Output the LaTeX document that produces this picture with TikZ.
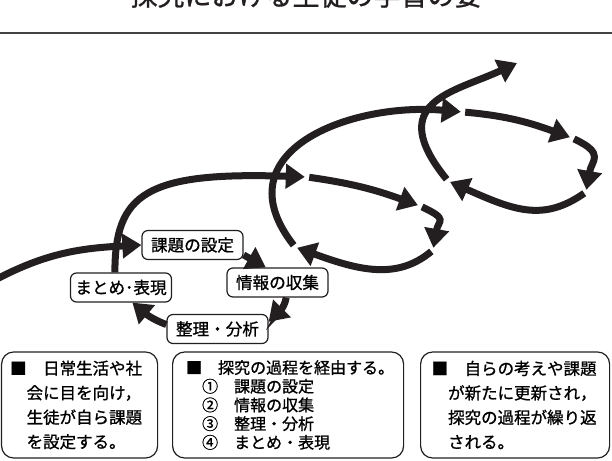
\documentclass[tikz,border=0pt]{standalone}
\usepackage{fontspec}
\setmainfont{Noto Sans CJK JP}[FakeBold=1]
\usetikzlibrary{arrows.meta}
\definecolor{ink}{HTML}{231F20}

\begin{document}
\begin{tikzpicture}[x=1pt, y=1pt, >={Triangle[length=19pt, width=24pt]},
    flow/.style={->, draw=ink, line width=7pt},
    labelbox/.style={draw=ink, fill=white, line width=1.2pt, rounded corners=6pt, minimum width=101pt, minimum height=29pt, inner sep=0pt, font=\fontsize{16.6}{18}\selectfont},
    notebox/.style={draw=ink, line width=1.2pt, rounded corners=12pt, minimum height=106pt, anchor=west, align=left},
    waypoint/.style={circle, inner sep=0pt, minimum size=4pt}]
    \useasboundingbox (0,0) rectangle (612,460);
    \clip (0,0) rectangle (612,460);

    % Title
    \node[anchor=base, font=\fontsize{27}{30}\selectfont, text=ink] (title) at (306,454.5) {探究における生徒の学習の姿};
    \draw[line width=1.5pt, draw=ink!85] (0,427) -- (612,427);

    % Define stages of the first cycle
    \node[labelbox] (set) at (192.5,215) {課題の設定};
    \node[labelbox] (collect) at (277.5,177.5) {情報の収集};
    \node[labelbox] (analyze) at (217.5,131) {整理・分析};
    \node[labelbox] (express) at (121,172.5) {まとめ･表現};

    % Define turning points of the next cycles
    \coordinate (entry) at (-5,180);
    \node[waypoint] (a2) at (307,283) {};
    \node[waypoint] (b2) at (420,254) {};
    \node[waypoint] (c2) at (433,210) {};
    \node[waypoint] (d2) at (295,213) {};
    \node[waypoint] (a3) at (463,348) {};
    \node[waypoint] (b3) at (572,322) {};
    \node[waypoint] (c3) at (586,268) {};
    \node[waypoint] (d3) at (448,279) {};
    \coordinate (exit) at (517,397);

    % Define notes
    \node[notebox, text width=139pt, inner xsep=8.5pt, font=\fontsize{16.5}{24.5}\selectfont] (notice) at (1,55) {■　日常生活や社\\　会に目を向け，\\　生徒が自ら課題\\　を設定する。};
    \node[notebox, text width=204pt, inner xsep=13.5pt, font=\fontsize{16}{18.7}\selectfont] (process) at (172,55) {■　探究の過程を経由する。\\　①　課題の設定\\　②　情報の収集\\　③　整理・分析\\　④　まとめ・表現};
    \node[notebox, text width=167pt, inner xsep=11pt, font=\fontsize{16.5}{24.5}\selectfont] (renew) at (420,55) {■　自らの考えや課題\\　が新たに更新され，\\　探究の過程が繰り返\\　される。};

    % Draw edges of the first cycle
    \draw[flow] (entry) to[out=28, in=183] (set.west); % Edge in -> set
    \draw[flow] (set.-11) -- (collect.128); % Edge set -> collect
    \draw[flow] (collect.-60) to[out=-100, in=45] (analyze.8); % Edge collect -> analyze
    \draw[flow] (analyze.175) to[out=160, in=-40] (express.-53); % Edge analyze -> express
    \draw[flow] (express.112) to[out=90, in=178, out distance=78pt, in distance=160pt] (a2); % Edge express -> a2

    % Draw edges of the second cycle
    \draw[flow] (a2) to[out=-8, in=160] (b2); % Edge a2 -> b2
    \draw[flow] (b2) to[out=-25, in=80, out distance=30pt, in distance=28pt] (c2); % Edge b2 -> c2
    \draw[flow] (c2) to[out=-140, in=-20, out distance=45pt, in distance=65pt] (d2); % Edge c2 -> d2
    \draw[flow] (d2) to[out=128, in=175, out distance=120pt, in distance=110pt] (a3); % Edge d2 -> a3

    % Draw edges of the third cycle
    \draw[flow] (a3) to[out=-5, in=160] (b3); % Edge a3 -> b3
    \draw[flow] (b3) to[out=-25, in=80, out distance=35pt, in distance=30pt] (c3); % Edge b3 -> c3
    \draw[flow] (c3) to[out=-145, in=-24, out distance=50pt, in distance=70pt] (d3); % Edge c3 -> d3
    \draw[flow] (d3) to[out=129, in=-155, out distance=100pt, in distance=70pt] (exit); % Edge d3 -> out
\end{tikzpicture}
\end{document}
